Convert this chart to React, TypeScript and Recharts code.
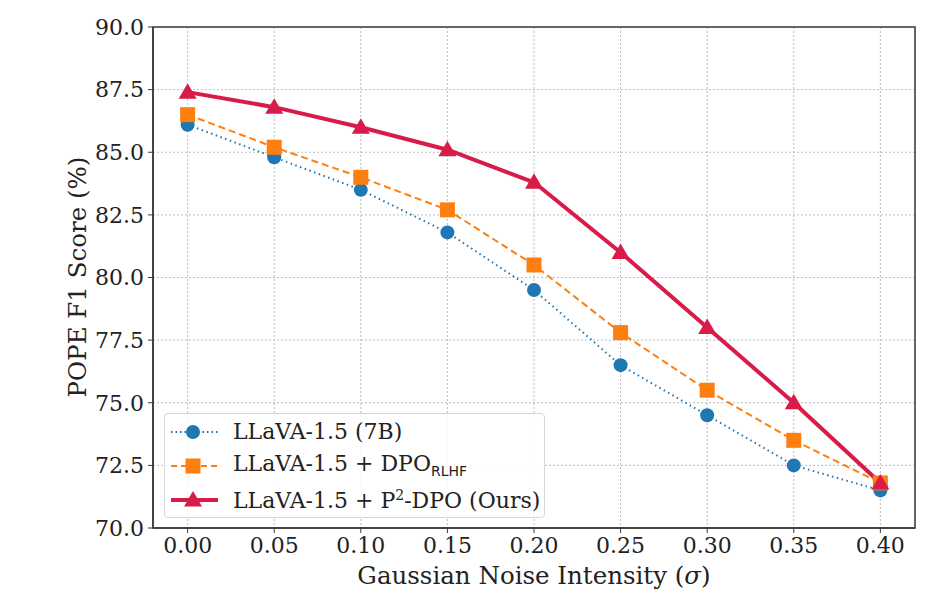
import {
  CartesianGrid,
  Legend,
  Line,
  LineChart,
  ReferenceArea,
  XAxis,
  YAxis,
} from "recharts";

// Robustez de POPE F1 frente a ruido gaussiano (sigma).

const sigmas = [0, 0.05, 0.1, 0.15, 0.2, 0.25, 0.3, 0.35, 0.4];
const llava = [86.1, 84.8, 83.5, 81.8, 79.5, 76.5, 74.5, 72.5, 71.5];
const dpoRlhf = [86.5, 85.2, 84.0, 82.7, 80.5, 77.8, 75.5, 73.5, 71.8];
const p2dpo = [87.4, 86.8, 86.0, 85.1, 83.8, 81.0, 78.0, 75.0, 71.8];
const yTicks = [70, 72.5, 75, 77.5, 80, 82.5, 85, 87.5, 90];

const data = sigmas.map((s, i) => ({
  s,
  a: llava[i],
  b: dpoRlhf[i],
  c: p2dpo[i],
}));

const FONT = "'DejaVu Serif', serif";
const BLUE = "#1f77b4";
const ORANGE = "#ff7f0e";
const RED = "#d81b48";
const FRAME = "#3a3a3a";
const TEXT = "#222";
const X_DOMAIN: [number, number] = [-0.02, 0.42];

type DotProps = { cx?: number; cy?: number; index?: number };
type VB = { viewBox?: { x: number; y: number; width: number; height: number } };

const circleDot = (p: DotProps) => (
  <circle key={`a${p.index}`} cx={p.cx} cy={p.cy} r={7} fill={BLUE} />
);
const squareDot = (p: DotProps) => (
  <rect
    key={`b${p.index}`}
    x={(p.cx ?? 0) - 7.5}
    y={(p.cy ?? 0) - 7.5}
    width={15}
    height={15}
    fill={ORANGE}
  />
);
const triangleDot = (p: DotProps) => {
  const x = p.cx ?? 0;
  const y = p.cy ?? 0;
  return (
    <path
      key={`c${p.index}`}
      d={`M${x},${y - 9} L${x + 9},${y + 6.5} L${x - 9},${y + 6.5} Z`}
      fill={RED}
    />
  );
};

const xLabel = ({ viewBox }: VB) => {
  if (!viewBox) return null;
  return (
    <text
      x={viewBox.x + viewBox.width / 2}
      y={viewBox.y + 56}
      textAnchor="middle"
      fill={TEXT}
      fontSize={24.5}
      fontFamily={FONT}
    >
      Gaussian Noise Intensity (<tspan fontStyle="italic">σ</tspan>)
    </text>
  );
};

const yLabel = ({ viewBox }: VB) => {
  if (!viewBox) return null;
  const cx = viewBox.x + 4;
  const cy = 277;
  return (
    <text
      x={cx}
      y={cy}
      transform={`rotate(-90 ${cx} ${cy})`}
      textAnchor="middle"
      dominantBaseline="central"
      fill={TEXT}
      fontSize={24.5}
      fontFamily={FONT}
    >
      POPE F1 Score (%)
    </text>
  );
};

function LegendBox() {
  const row = (
    icon: React.ReactNode,
    label: React.ReactNode,
    key: string
  ) => (
    <div key={key} style={{ display: "flex", alignItems: "center", height: 34 }}>
      <svg width={50} height={20} style={{ marginRight: 13, flex: "none" }}>
        {icon}
      </svg>
      <span style={{ whiteSpace: "nowrap" }}>{label}</span>
    </div>
  );
  return (
    <div
      style={{
        position: "absolute",
        left: 164,
        top: 413,
        width: 381,
        height: 105,
        boxSizing: "border-box",
        border: "1px solid #d6d6d6",
        borderRadius: 4,
        background: "rgba(255,255,255,0.85)",
        padding: "1px 0 0 5px",
        fontFamily: FONT,
        fontSize: 22,
        color: TEXT,
        lineHeight: 1,
      }}
    >
      {row(
        <g>
          <line x1={1} y1={10} x2={48} y2={10} stroke={BLUE} strokeWidth={2} strokeDasharray="1.5 3" />
          <circle cx={23} cy={10} r={7} fill={BLUE} />
        </g>,
        "LLaVA-1.5 (7B)",
        "a"
      )}
      {row(
        <g>
          <line x1={1} y1={10} x2={48} y2={10} stroke={ORANGE} strokeWidth={2} strokeDasharray="6 4" />
          <rect x={15.5} y={2.5} width={15} height={15} fill={ORANGE} />
        </g>,
        <>
          LLaVA-1.5 + DPO
          <sub style={{ fontSize: 14, fontFamily: "'DejaVu Sans', sans-serif" }}>
            RLHF
          </sub>
        </>,
        "b"
      )}
      {row(
        <g>
          <line x1={1} y1={10} x2={48} y2={10} stroke={RED} strokeWidth={4} />
          <path d="M23,1 L32,16.5 L14,16.5 Z" fill={RED} />
        </g>,
        <>
          LLaVA-1.5 + P<sup style={{ fontSize: 14 }}>2</sup>-DPO (Ours)
        </>,
        "c"
      )}
    </div>
  );
}

export default function App() {
  const tick = { fill: TEXT, fontSize: 22, fontFamily: FONT };
  return (
    <div
      style={{
        position: "fixed",
        left: 0,
        top: 0,
        width: 939,
        height: 589,
        background: "#fff",
      }}
    >
      <LineChart
        width={939}
        height={589}
        data={data}
        margin={{ top: 27, right: 24, bottom: 31, left: 73 }}
      >
        <CartesianGrid stroke="#bdbdbd" strokeDasharray="2 2" strokeWidth={1} />
        <ReferenceArea
          x1={X_DOMAIN[0]}
          x2={X_DOMAIN[1]}
          y1={70}
          y2={90}
          fill="none"
          fillOpacity={0}
          stroke={FRAME}
          strokeWidth={1.5}
        />
        <XAxis
          dataKey="s"
          type="number"
          domain={X_DOMAIN}
          ticks={sigmas}
          tickFormatter={(v: number) => v.toFixed(2)}
          tick={tick}
          tickSize={5}
          tickMargin={4}
          height={30}
          axisLine={{ stroke: FRAME, strokeWidth: 1.5 }}
          tickLine={{ stroke: FRAME }}
          label={{ content: xLabel }}
        />
        <YAxis
          type="number"
          domain={[70, 90]}
          ticks={yTicks}
          tickFormatter={(v: number) => v.toFixed(1)}
          tick={tick}
          tickSize={5}
          tickMargin={4}
          width={80}
          axisLine={{ stroke: FRAME, strokeWidth: 1.5 }}
          tickLine={{ stroke: FRAME }}
          label={{ content: yLabel }}
        />
        <Legend content={() => <LegendBox />} wrapperStyle={{ left: 0, top: 0 }} />
        <Line
          dataKey="a"
          stroke={BLUE}
          strokeWidth={2}
          strokeDasharray="1.5 3.5"
          dot={circleDot}
          activeDot={false}
          isAnimationActive={false}
        />
        <Line
          dataKey="b"
          stroke={ORANGE}
          strokeWidth={2}
          strokeDasharray="7 4"
          dot={squareDot}
          activeDot={false}
          isAnimationActive={false}
        />
        <Line
          dataKey="c"
          stroke={RED}
          strokeWidth={4}
          strokeLinejoin="round"
          dot={triangleDot}
          activeDot={false}
          isAnimationActive={false}
        />
      </LineChart>
    </div>
  );
}
